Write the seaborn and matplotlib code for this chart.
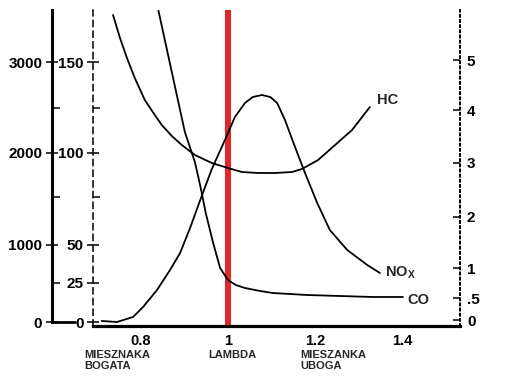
import numpy as np
import pandas as pd
import matplotlib
matplotlib.use("Agg")
import matplotlib.pyplot as plt
from matplotlib.lines import Line2D
import seaborn as sns

# ---- data (lambda vs relative emission level) ----
hc_lambda = [0.736, 0.752, 0.768, 0.786, 0.809, 0.832, 0.848, 0.871, 0.894, 0.924,
             0.963, 1.000, 1.032, 1.069, 1.108, 1.147, 1.170, 1.207, 1.246, 1.285, 1.326]
hc_level = [311, 288, 268, 248, 226, 211, 201, 190, 181, 171,
            163, 158, 154, 153, 153, 154, 157, 166, 181, 196, 219]

nox_lambda = [0.710, 0.745, 0.782, 0.805, 0.837, 0.867, 0.890, 0.913, 0.938, 0.963,
              0.993, 1.016, 1.039, 1.057, 1.078, 1.097, 1.113, 1.131, 1.154, 1.177,
              1.205, 1.234, 1.274, 1.320, 1.349]
nox_level = [5, 4, 9, 19, 36, 56, 73, 98, 128, 157,
             186, 209, 223, 229, 231, 229, 223, 206, 179, 153,
             123, 96, 76, 61, 53]

co_lambda = [0.839, 0.871, 0.901, 0.924, 0.936, 0.949, 0.966, 0.982, 1.000, 1.018,
             1.039, 1.074, 1.103, 1.182, 1.257, 1.333, 1.402]
co_level = [318, 254, 194, 164, 141, 113, 83, 58, 46, 41,
            38, 35, 33, 31, 30, 29, 29]

x_ticks = [0.8, 1.0, 1.2, 1.4]
x_tick_labels = ["0.8", "1", "1.2", "1.4"]

outer_tick_pos = [4, 81, 173, 264]
outer_tick_labels = ["0", "1000", "2000", "3000"]
outer_minor_pos = [43, 129, 218]

mid_tick_pos = [4, 43, 81, 173, 264]
mid_tick_labels = ["0", "25", "50", "100", "150"]
mid_minor_pos = [129, 218]

right_tick_pos = [6, 28, 58, 109, 163, 216, 266]
right_tick_labels = ["0", ".5", "1", "2", "3", "4", "5"]

stoich_lambda = 1.0

# ---- styling ----
sns.set_theme(style="white")
plt.rcParams["font.family"] = ["Liberation Sans", "DejaVu Sans"]
plt.rcParams["font.weight"] = "bold"
plt.rcParams["mathtext.fontset"] = "custom"
plt.rcParams["mathtext.bf"] = "Liberation Sans:bold"
plt.rcParams["mathtext.rm"] = "Liberation Sans:bold"

W, H = 513, 377
fig = plt.figure(figsize=(W / 100, H / 100), dpi=100)
ax = fig.add_axes([93 / W, 51 / H, 367 / W, 316 / H])

df = pd.concat([
    pd.DataFrame({"lambda": hc_lambda, "level": hc_level, "gas": "HC"}),
    pd.DataFrame({"lambda": nox_lambda, "level": nox_level, "gas": "NOx"}),
    pd.DataFrame({"lambda": co_lambda, "level": co_level, "gas": "CO"}),
], ignore_index=True)

ax.axvline(stoich_lambda, color="#e0282c", lw=4.4, zorder=1.5)
sns.lineplot(data=df, x="lambda", y="level", hue="gas",
             palette={"HC": "black", "NOx": "black", "CO": "black"},
             estimator=None, sort=False, legend=False, linewidth=1.3,
             ax=ax, zorder=3)
for ln in ax.get_lines():
    ln.set_solid_joinstyle("round")

ax.set_xlim(0.690, 1.533)
ax.set_ylim(0, 316)
ax.set_xlabel("")
ax.set_ylabel("")

# x axis
ax.set_xticks(x_ticks, x_tick_labels)
ax.tick_params(axis="x", length=0, pad=6, labelsize=10.5, colors="black")
ax.spines["bottom"].set_linewidth(2.3)
ax.spines["bottom"].set_color("black")
ax.spines["top"].set_visible(False)
ax.spines["right"].set_visible(False)

# middle (dashed) axis
ax.spines["left"].set_color("black")
ax.spines["left"].set_linewidth(1.1)
ax.spines["left"].set_linestyle((0, (4, 3)))
ax.set_yticks(mid_tick_pos, mid_tick_labels)
ax.set_yticks(mid_minor_pos, minor=True)
ax.tick_params(axis="y", which="major", left=True, direction="inout", length=8,
               width=1.1, pad=2.5, labelsize=11, colors="black")
ax.tick_params(axis="y", which="minor", left=True, direction="in", length=5,
               width=1.1, colors="black")

# outer left solid axis
ax2 = ax.twinx()
ax2.set_ylim(0, 316)
for s in ["top", "right", "bottom"]:
    ax2.spines[s].set_visible(False)
ax2.spines["left"].set_visible(True)
ax2.spines["left"].set_position(("axes", (52 - 93) / 367))
ax2.spines["left"].set_linewidth(2.2)
ax2.spines["left"].set_color("black")
ax2.spines["left"].set_bounds(4, 316)
ax2.yaxis.set_ticks_position("left")
ax2.yaxis.set_label_position("left")
ax2.set_yticks(outer_tick_pos, outer_tick_labels)
ax2.set_yticks(outer_minor_pos, minor=True)
ax2.tick_params(axis="y", which="major", left=True, right=False, direction="inout",
                length=9, width=1.1, pad=2.5, labelsize=11, colors="black")
ax2.tick_params(axis="y", which="minor", left=True, right=False, direction="in",
                length=6, width=1.1, colors="black")
ax2.add_line(Line2D([(52 - 93) / 367, (75 - 93) / 367], [4 / 316, 4 / 316],
                    transform=ax2.transAxes, color="black", lw=2.0, clip_on=False))

# right dotted axis
ax3 = ax.twinx()
ax3.set_ylim(0, 316)
for s in ["top", "left", "bottom"]:
    ax3.spines[s].set_visible(False)
ax3.spines["right"].set_linestyle(":")
ax3.spines["right"].set_linewidth(1.4)
ax3.spines["right"].set_color("black")
ax3.set_yticks(right_tick_pos, right_tick_labels)
ax3.tick_params(axis="y", right=True, direction="in", length=5, width=1.1,
                pad=5, labelsize=11, colors="black")

# curve labels
ax.text(1.343, 226, "HC", fontsize=10.5, fontweight="bold", va="center", ha="left")
ax.text(1.361, 53, r"NO$_\mathbf{X}$", fontsize=10.5, fontweight="bold",
        va="center", ha="left")
ax.text(1.411, 26, "CO", fontsize=10.5, fontweight="bold", va="center", ha="left")

# bottom annotations
tr = ax.get_xaxis_transform()
ax.text(0.671, -0.075, "MIESZNAKA\nBOGATA", transform=tr, fontsize=8,
        fontweight="bold", va="top", ha="left", linespacing=1.2)
ax.text(0.954, -0.075, "LAMBDA", transform=tr, fontsize=8,
        fontweight="bold", va="top", ha="left")
ax.text(1.166, -0.075, "MIESZANKA\nUBOGA", transform=tr, fontsize=8,
        fontweight="bold", va="top", ha="left", linespacing=1.2)

fig.savefig("out.png", dpi=100)
